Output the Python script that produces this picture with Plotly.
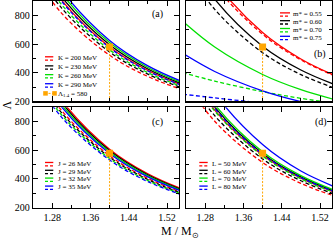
import plotly.graph_objects as go

# ---------------- data ----------------
M_GRID = [1.22, 1.30, 1.40, 1.48, 1.56]
COLORS = ["#ff0000", "#000000", "#00e000", "#0000ff"]

A_LABELS = ["K = 200 MeV", "K = 230 MeV", "K = 260 MeV", "K = 290 MeV"]
A_SOLID = [[1325, 905, 580, 416, 303], [1359, 928, 595, 426, 311],
           [1393, 952, 610, 437, 319], [1428, 975, 625, 448, 327]]
A_DASHED = [[1192, 814, 522, 374, 273], [1245, 850, 545, 390, 285],
            [1279, 874, 560, 401, 293], [1313, 897, 575, 412, 300]]

B_LABELS = ["m* = 0.55", "m* = 0.60", "m* = 0.70", "m* = 0.75"]
B_SOLID = [[1488, 1037, 680, 496, 367], [1336, 913, 585, 419, 306],
           [797, 579, 388, 282, 205], [563, 409, 274, 199, 145]]
B_DASHED = [[1440, 1010, 668, 490, 365], [1233, 842, 540, 387, 282],
            [414, 342, 269, 222, 183], [256, 225, 190, 167, 146]]

C_LABELS = ["J = 26 MeV", "J = 29 MeV", "J = 32 MeV", "J = 35 MeV"]
C_SOLID = [[1389, 948, 608, 436, 318], [1366, 933, 598, 428, 312],
           [1343, 917, 588, 421, 307], [1320, 902, 578, 414, 302]]
C_DASHED = [[1284, 877, 562, 403, 294], [1261, 861, 552, 396, 288],
            [1238, 846, 542, 388, 283], [1215, 830, 532, 381, 278]]

D_LABELS = ["L = 50 MeV", "L = 60 MeV", "L = 70 MeV", "L = 80 MeV"]
D_SOLID = [[1290, 881, 565, 405, 295], [1320, 902, 578, 414, 302],
           [1348, 920, 590, 423, 308], [1480, 1000, 640, 455, 332]]
D_DASHED = [[1176, 803, 515, 369, 269], [1233, 842, 540, 387, 282],
            [1279, 874, 560, 401, 293], [1306, 892, 572, 410, 299]]

M_14 = 1.4
LAMBDA_14 = 580
LAMBDA_MIN = 200
X_TICKS = [1.28, 1.36, 1.44, 1.52]
Y_TICKS = [200, 400, 600, 800]

ORANGE = "#ffa500"
FONT = "Liberation Serif"
W, H = 334, 248


def PX(px):
    return px / W


def PY(py):
    return 1 - py / H


fig = go.Figure()

panels = [
    ("x", "y", A_SOLID, A_DASHED),
    ("x2", "y2", B_SOLID, B_DASHED),
    ("x3", "y3", C_SOLID, C_DASHED),
    ("x4", "y4", D_SOLID, D_DASHED),
]

for xa, ya, solid, dashed in panels:
    for j in range(4):
        fig.add_trace(go.Scatter(x=M_GRID, y=dashed[j], mode="lines", xaxis=xa, yaxis=ya,
                                 line=dict(color=COLORS[j], width=1.3, dash="4px,2.5px", shape="spline"),
                                 showlegend=False, hoverinfo="skip"))
        fig.add_trace(go.Scatter(x=M_GRID, y=solid[j], mode="lines", xaxis=xa, yaxis=ya,
                                 line=dict(color=COLORS[j], width=1.3, shape="spline"),
                                 showlegend=False, hoverinfo="skip"))
    fig.add_trace(go.Scatter(x=[M_14, M_14], y=[LAMBDA_MIN, LAMBDA_14], mode="lines", xaxis=xa, yaxis=ya,
                             line=dict(color=ORANGE, width=1, dash="2px,1.5px"),
                             showlegend=False, hoverinfo="skip"))
    fig.add_trace(go.Scatter(x=[M_14], y=[LAMBDA_14], mode="markers", xaxis=xa, yaxis=ya,
                             marker=dict(symbol="square", size=7, color=ORANGE),
                             showlegend=False, hoverinfo="skip"))

# panel geometry (pixels)
XL = (33, 179)
XR = (186, 332)
YT = (1, 104)
YB = (110, 212.7)


def xaxis(dom, anchor, labels):
    return dict(domain=[PX(dom[0]), PX(dom[1])], anchor=anchor, range=[1.24, 1.545],
                tickvals=X_TICKS, ticktext=[f"{v:.2f}" for v in X_TICKS], showticklabels=labels,
                ticks="inside", ticklen=5, tickwidth=1, tickcolor="black",
                minor=dict(dtick=0.04, tick0=1.28, ticks="inside", ticklen=3, tickwidth=1, tickcolor="black"),
                showline=True, linecolor="black", linewidth=1.3, mirror="allticks",
                showgrid=False, zeroline=False,
                tickfont=dict(family=FONT, size=10, color="black"))


def yaxis(dom, anchor, labels):
    return dict(domain=[PY(dom[1]), PY(dom[0])], anchor=anchor, range=[200, 900],
                tickvals=Y_TICKS, showticklabels=labels,
                ticks="inside", ticklen=5, tickwidth=1, tickcolor="black",
                minor=dict(dtick=100, tick0=200, ticks="inside", ticklen=3, tickwidth=1, tickcolor="black"),
                showline=True, linecolor="black", linewidth=1.3, mirror="allticks",
                showgrid=False, zeroline=False,
                tickfont=dict(family=FONT, size=10, color="black"))


fig.update_layout(
    width=W, height=H, margin=dict(l=0, r=0, t=0, b=0),
    paper_bgcolor="white", plot_bgcolor="white", showlegend=False,
    xaxis=xaxis(XL, "y", False), yaxis=yaxis(YT, "x", True),
    xaxis2=xaxis(XR, "y2", False), yaxis2=yaxis(YT, "x2", False),
    xaxis3=xaxis(XL, "y3", True), yaxis3=yaxis(YB, "x3", True),
    xaxis4=xaxis(XR, "y4", True), yaxis4=yaxis(YB, "x4", False),
)

shapes = []
annotations = []


def add_legend(x0, x1, xt, rows, labels, size=7):
    for j, (row, lab) in enumerate(zip(rows, labels)):
        shapes.append(dict(type="line", xref="paper", yref="paper",
                           x0=PX(x0), x1=PX(x1), y0=PY(row - 0.8), y1=PY(row - 0.8),
                           line=dict(color=COLORS[j], width=1.3)))
        shapes.append(dict(type="line", xref="paper", yref="paper",
                           x0=PX(x0), x1=PX(x1), y0=PY(row + 2.6), y1=PY(row + 2.6),
                           line=dict(color=COLORS[j], width=1.3, dash="3px,2px")))
        annotations.append(dict(text=lab, xref="paper", yref="paper", x=PX(xt), y=PY(row + 0.6),
                                xanchor="left", yanchor="middle", showarrow=False,
                                font=dict(family=FONT, size=size, color="black")))


add_legend(45, 53.3, 56, [59, 68.3, 77.3, 86.6], A_LABELS)
add_legend(280, 290, 291, [14, 22, 30, 38], B_LABELS)
add_legend(45, 53.3, 56, [167.3, 175.3, 183.3, 191.5], C_LABELS)
add_legend(199.3, 207.7, 210, [167.3, 175.3, 183.3, 191.5], D_LABELS)

# Lambda_1.4 legend entry in panel (a)
ly = 95.7
shapes.append(dict(type="line", xref="paper", yref="paper", x0=PX(45), x1=PX(55), y0=PY(ly), y1=PY(ly),
                   line=dict(color=ORANGE, width=1, dash="2px,1.5px")))
for cx in (45.5, 54.5):
    shapes.append(dict(type="rect", xref="paper", yref="paper",
                       x0=PX(cx - 2.3), x1=PX(cx + 2.3), y0=PY(ly + 2.3), y1=PY(ly - 2.3),
                       fillcolor=ORANGE, line=dict(width=0)))
annotations.append(dict(text=f"Λ<sub>1.4</sub> = {LAMBDA_14}", xref="paper", yref="paper",
                        x=PX(56), y=PY(ly + 0.6), xanchor="left", yanchor="middle", showarrow=False,
                        font=dict(family=FONT, size=7, color="black")))

# panel tags
for tag, px, py in [("(a)", 157, 14), ("(b)", 320, 55), ("(c)", 157, 125.5), ("(d)", 321, 125.5)]:
    annotations.append(dict(text=tag, xref="paper", yref="paper", x=PX(px), y=PY(py),
                            xanchor="center", yanchor="middle", showarrow=False,
                            font=dict(family=FONT, size=10, color="black")))

# axis titles
annotations.append(dict(text="M / M<sub>⊙</sub>", xref="paper", yref="paper", x=PX(180), y=PY(238),
                        xanchor="center", yanchor="middle", showarrow=False,
                        font=dict(family=FONT, size=12, color="black")))
annotations.append(dict(text="Λ", xref="paper", yref="paper", x=PX(7), y=PY(108),
                        xanchor="center", yanchor="middle", showarrow=False, textangle=-90,
                        font=dict(family=FONT, size=12, color="black")))

fig.update_layout(shapes=shapes, annotations=annotations)
fig.write_html("out.html", config={"displayModeBar": False, "staticPlot": True},
               post_script="document.body.style.margin='0';document.body.style.overflow='hidden';")
